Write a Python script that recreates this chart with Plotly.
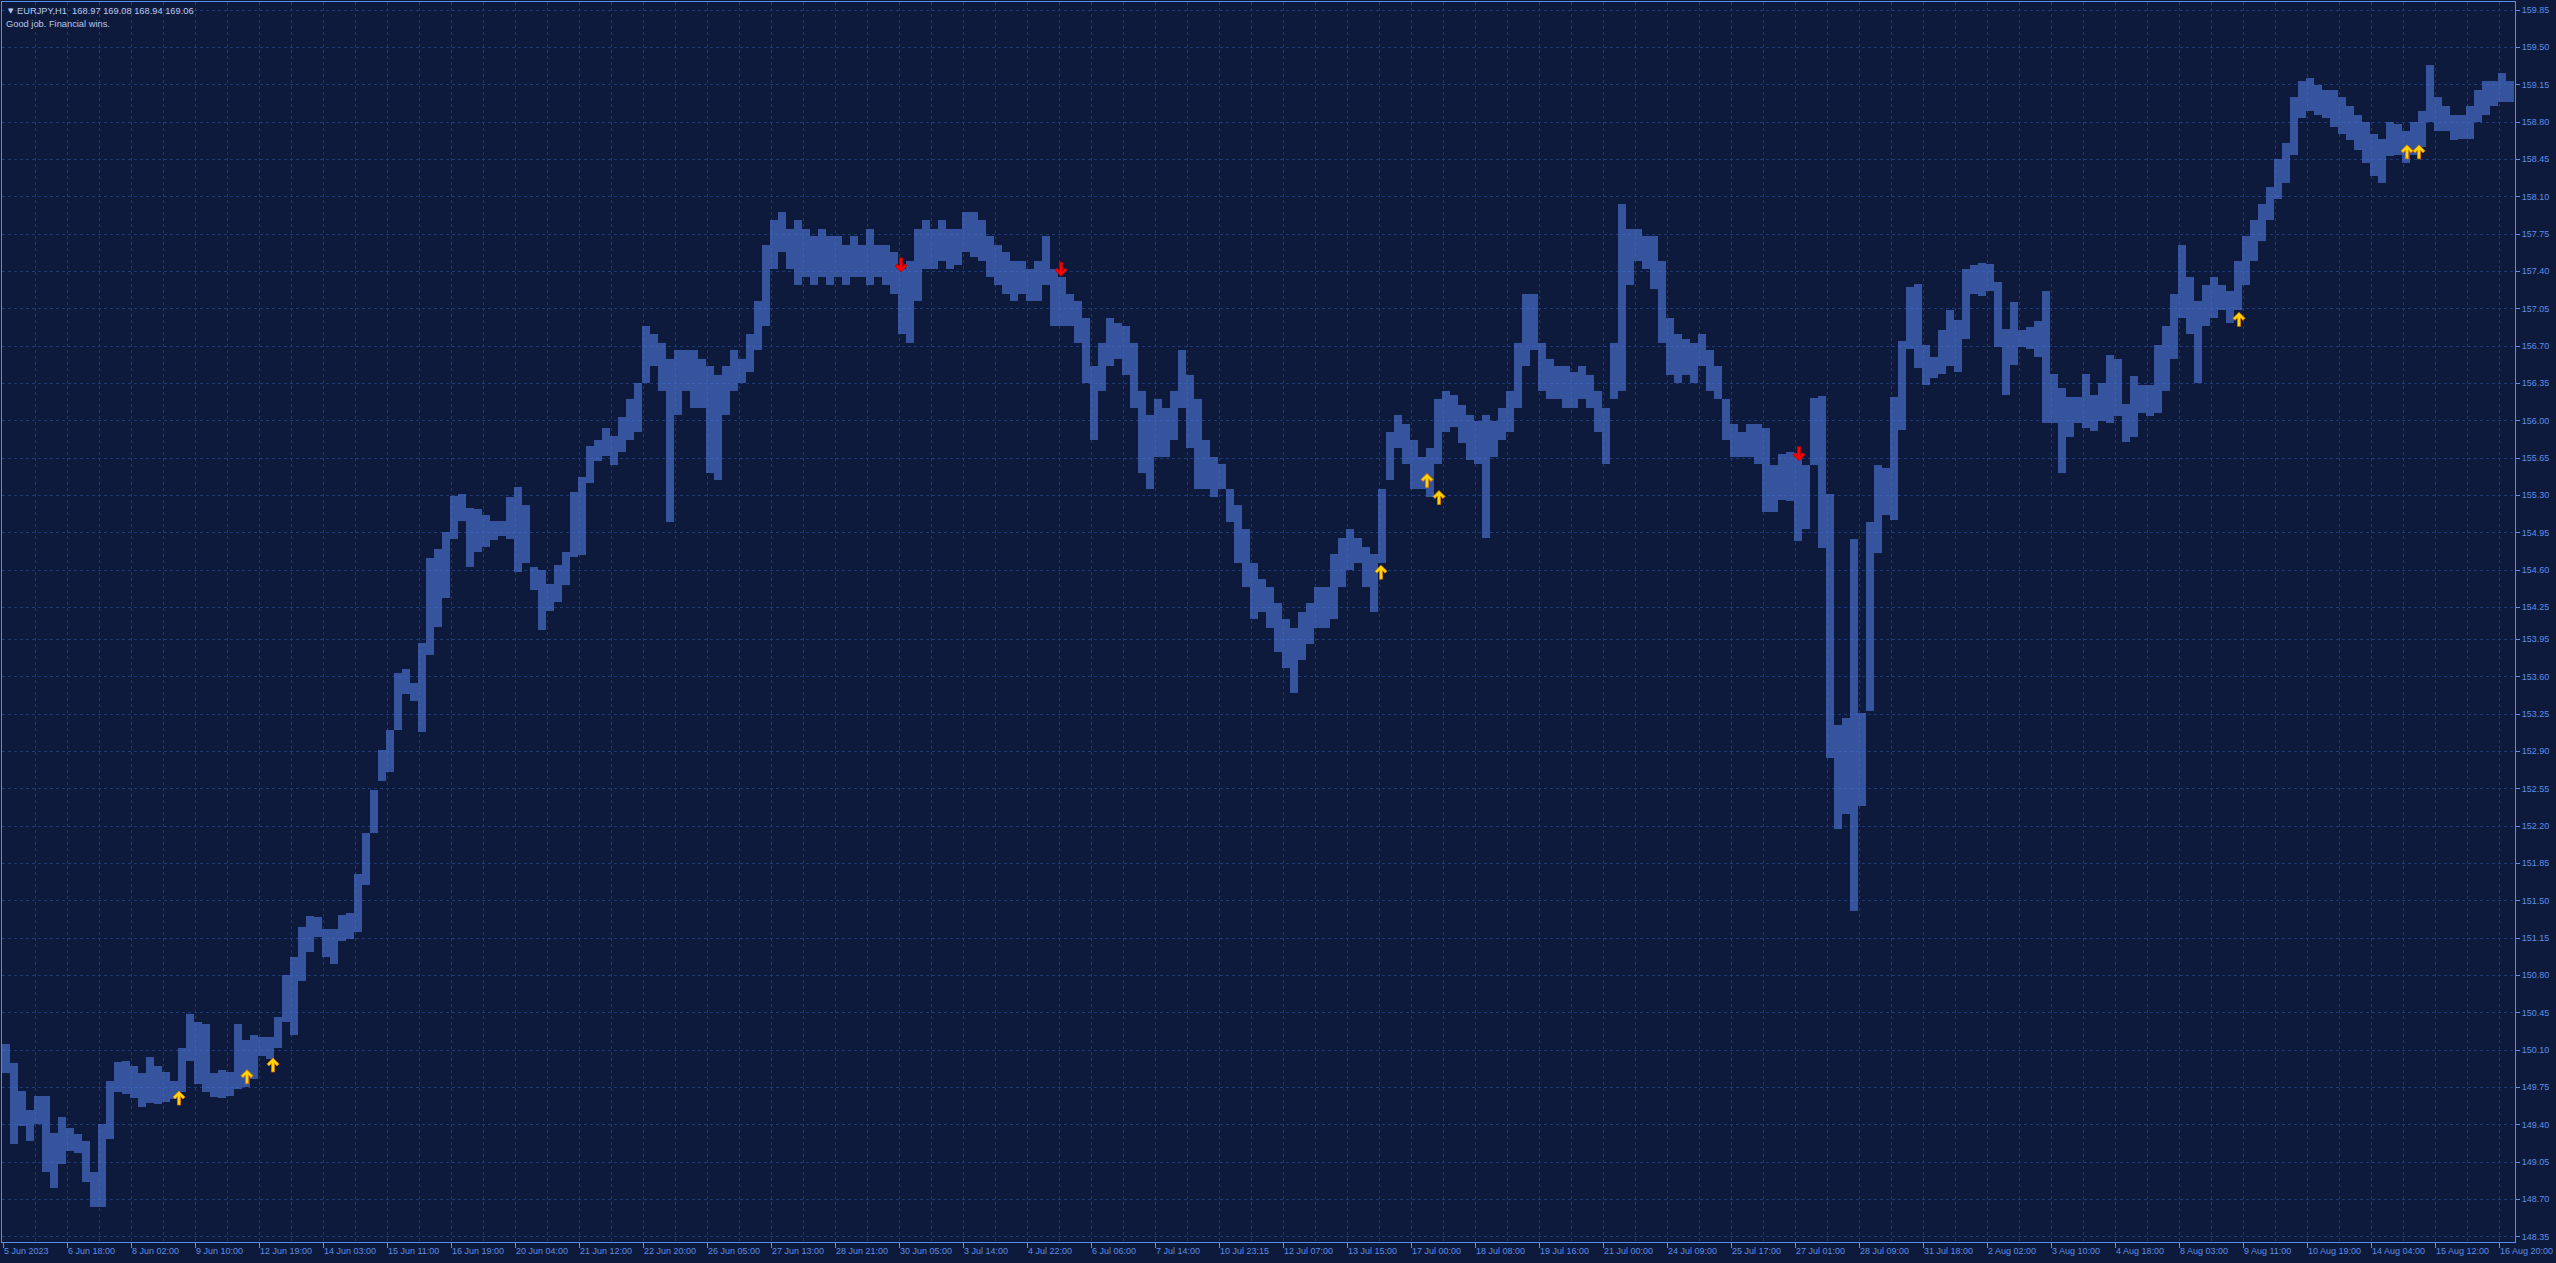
import plotly.graph_objects as go

# ---- data: EURJPY H1, aggregated in 4-bar blocks (high / low per block) ----
HIGH = [
    150.16, 149.98, 149.72, 149.54, 149.67, 149.67, 149.32, 149.47, 149.37, 149.31,
    149.25, 148.96, 149.41, 149.81, 149.99, 150.00, 149.95, 149.88, 150.03, 149.95,
    149.89, 149.81, 150.12, 150.44, 150.36, 150.34, 149.88, 149.91, 149.89, 150.34,
    150.19, 150.24, 150.22, 150.22, 150.41, 150.80, 150.97, 151.25, 151.36, 151.35,
    151.23, 151.23, 151.37, 151.38, 151.75, 152.13, 152.54, 152.91, 153.10, 153.63,
    153.67, 153.54, 153.92, 154.71, 154.80, 154.96, 155.29, 155.31, 155.18, 155.17,
    155.12, 155.06, 155.06, 155.28, 155.38, 155.21, 154.63, 154.60, 154.47, 154.65,
    154.77, 155.33, 155.47, 155.76, 155.82, 155.93, 155.86, 156.03, 156.20, 156.35,
    156.89, 156.81, 156.73, 156.58, 156.66, 156.66, 156.66, 156.58, 156.51, 156.43,
    156.51, 156.66, 156.58, 156.81, 157.12, 157.65, 157.88, 157.96, 157.80, 157.88,
    157.80, 157.73, 157.80, 157.73, 157.73, 157.65, 157.73, 157.65, 157.80, 157.65,
    157.65, 157.58, 157.42, 157.50, 157.80, 157.88, 157.80, 157.88, 157.80, 157.80,
    157.96, 157.96, 157.88, 157.73, 157.65, 157.58, 157.50, 157.50, 157.42, 157.50,
    157.73, 157.42, 157.35, 157.19, 157.12, 156.96, 156.51, 156.73, 156.96, 156.92,
    156.89, 156.73, 156.28, 156.05, 156.20, 156.12, 156.28, 156.66, 156.43, 156.20,
    155.82, 155.66, 155.59, 155.36, 155.21, 154.98, 154.67, 154.52, 154.44, 154.29,
    154.14, 154.06, 154.21, 154.29, 154.44, 154.44, 154.75, 154.90, 154.98, 154.90,
    154.82, 154.75, 155.36, 155.89, 156.05, 155.97, 155.82, 155.66, 155.74, 156.20,
    156.28, 156.24, 156.15, 156.05, 156.00, 156.05, 156.00, 156.12, 156.28, 156.73,
    157.19, 157.19, 156.73, 156.58, 156.51, 156.51, 156.46, 156.51, 156.43, 156.28,
    156.12, 156.73, 158.03, 157.80, 157.80, 157.73, 157.73, 157.50, 156.96, 156.81,
    156.77, 156.73, 156.81, 156.66, 156.51, 156.20, 155.97, 155.89, 155.97, 155.97,
    155.93, 155.58, 155.69, 155.71, 155.70, 155.58, 156.21, 156.23, 155.31, 153.15,
    153.21, 154.89, 153.26, 155.05, 155.58, 155.56, 156.22, 156.75, 157.25, 157.28,
    156.71, 156.60, 156.85, 157.04, 156.94, 157.42, 157.46, 157.48, 157.47, 157.30,
    156.86, 157.11, 156.85, 156.88, 156.93, 157.22, 156.44, 156.31, 156.22, 156.22,
    156.44, 156.24, 156.35, 156.62, 156.58, 156.16, 156.42, 156.33, 156.33, 156.71,
    156.89, 157.19, 157.65, 157.35, 157.12, 157.27, 157.35, 157.27, 157.22, 157.50,
    157.73, 157.88, 158.03, 158.19, 158.45, 158.60, 159.03, 159.18, 159.21, 159.15,
    159.10, 159.10, 159.03, 158.95, 158.87, 158.80, 158.69, 158.64, 158.80, 158.78,
    158.72, 158.80, 158.90, 159.33, 159.03, 158.95, 158.87, 158.87, 158.95, 159.10,
    159.18, 159.18, 159.26, 159.18,
]
LOW = [
    149.88, 149.22, 149.39, 149.25, 149.41, 148.96, 148.81, 149.03, 149.15, 149.13,
    148.86, 148.63, 148.63, 149.27, 149.71, 149.69, 149.65, 149.57, 149.60, 149.59,
    149.61, 149.64, 149.71, 150.00, 149.78, 149.71, 149.66, 149.65, 149.67, 149.73,
    149.75, 149.83, 150.04, 150.02, 150.12, 150.36, 150.24, 150.75, 151.02, 151.16,
    150.97, 150.91, 151.12, 151.14, 151.21, 151.65, 152.13, 152.62, 152.71, 153.10,
    153.44, 153.37, 153.08, 153.80, 154.07, 154.34, 154.89, 155.06, 154.63, 154.77,
    154.82, 154.88, 154.92, 154.89, 154.58, 154.67, 154.41, 154.04, 154.22, 154.30,
    154.46, 154.72, 154.74, 155.42, 155.62, 155.67, 155.58, 155.71, 155.82, 155.89,
    156.35, 156.51, 156.28, 155.05, 156.05, 156.28, 156.12, 156.12, 155.51, 155.44,
    156.05, 156.28, 156.35, 156.46, 156.66, 156.89, 157.42, 157.58, 157.42, 157.27,
    157.35, 157.27, 157.35, 157.27, 157.35, 157.27, 157.35, 157.35, 157.27, 157.35,
    157.27, 157.19, 156.81, 156.73, 157.12, 157.42, 157.42, 157.50, 157.42, 157.46,
    157.58, 157.53, 157.50, 157.35, 157.27, 157.19, 157.12, 157.19, 157.12, 157.12,
    157.27, 156.89, 156.89, 156.89, 156.73, 156.35, 155.82, 156.28, 156.51, 156.58,
    156.43, 156.12, 155.51, 155.36, 155.66, 155.66, 155.82, 156.12, 155.74, 155.36,
    155.36, 155.28, 155.36, 155.05, 154.67, 154.44, 154.14, 154.21, 154.06, 153.83,
    153.68, 153.45, 153.76, 153.91, 154.06, 154.06, 154.14, 154.44, 154.60, 154.67,
    154.44, 154.21, 154.67, 155.44, 155.74, 155.59, 155.36, 155.36, 155.28, 155.59,
    155.89, 155.94, 155.79, 155.63, 155.59, 154.90, 155.66, 155.82, 155.89, 156.12,
    156.51, 156.66, 156.28, 156.20, 156.20, 156.12, 156.12, 156.20, 156.12, 155.89,
    155.59, 156.20, 156.28, 157.27, 157.50, 157.42, 157.23, 156.73, 156.43, 156.35,
    156.43, 156.35, 156.51, 156.28, 156.20, 155.82, 155.66, 155.66, 155.66, 155.59,
    155.14, 155.14, 155.26, 155.25, 154.87, 154.98, 155.58, 154.81, 152.84, 152.17,
    152.31, 151.40, 152.39, 153.28, 154.76, 155.12, 155.07, 155.91, 156.67, 156.49,
    156.33, 156.40, 156.44, 156.51, 156.46, 156.77, 157.19, 157.17, 157.22, 156.69,
    156.24, 156.52, 156.69, 156.67, 156.60, 155.98, 155.98, 155.51, 155.85, 155.98,
    155.93, 155.90, 156.00, 155.98, 156.04, 155.80, 155.85, 156.07, 156.04, 156.07,
    156.28, 156.58, 156.96, 156.81, 156.35, 156.89, 156.96, 157.04, 156.92, 157.04,
    157.27, 157.50, 157.68, 157.88, 158.08, 158.23, 158.49, 158.84, 158.90, 158.87,
    158.84, 158.75, 158.69, 158.63, 158.54, 158.42, 158.29, 158.23, 158.48, 158.49,
    158.42, 158.49, 158.57, 158.80, 158.72, 158.72, 158.63, 158.64, 158.64, 158.80,
    158.87, 158.95, 158.99, 158.99,
]
BARS_PER_BLOCK = 4

X_LABELS = [
    "5 Jun 2023", "6 Jun 18:00", "8 Jun 02:00", "9 Jun 10:00", "12 Jun 19:00",
    "14 Jun 03:00", "15 Jun 11:00", "16 Jun 19:00", "20 Jun 04:00", "21 Jun 12:00",
    "22 Jun 20:00", "26 Jun 05:00", "27 Jun 13:00", "28 Jun 21:00", "30 Jun 05:00",
    "3 Jul 14:00", "4 Jul 22:00", "6 Jul 06:00", "7 Jul 14:00", "10 Jul 23:15",
    "12 Jul 07:00", "13 Jul 15:00", "17 Jul 00:00", "18 Jul 08:00", "19 Jul 16:00",
    "21 Jul 00:00", "24 Jul 09:00", "25 Jul 17:00", "27 Jul 01:00", "28 Jul 09:00",
    "31 Jul 18:00", "2 Aug 02:00", "3 Aug 10:00", "4 Aug 18:00", "8 Aug 03:00",
    "9 Aug 11:00", "10 Aug 19:00", "14 Aug 04:00", "15 Aug 12:00", "16 Aug 20:00",
]
LABEL_STEP = 32   # bars between time labels
GRID_STEP = 16    # bars between vertical grid lines

Y_TICKS = [
    159.85, 159.50, 159.15, 158.80, 158.45, 158.10, 157.75, 157.40, 157.05, 156.70,
    156.35, 156.00, 155.65, 155.30, 154.95, 154.60, 154.25, 153.95, 153.60, 153.25,
    152.90, 152.55, 152.20, 151.85, 151.50, 151.15, 150.80, 150.45, 150.10, 149.75,
    149.40, 149.05, 148.70, 148.35,
]

UP_BAR = [88, 122, 135, 689, 712, 718, 1118, 1202, 1208]
UP_PRICE = [149.65, 149.85, 149.96, 154.58, 155.44, 155.28, 156.95, 158.52, 158.52]
DOWN_BAR = [449, 529, 898]
DOWN_PRICE = [157.46, 157.42, 155.69]

SYMBOL = "EURJPY,H1"
OHLC_TEXT = "168.97 169.08 168.94 169.06"
COMMENT = "Good job. Financial wins."

# ---- style ----
BG = "#0e1a3b"
GRID = "#1d3a74"
BAR = "#5079e0"
AXIS = "#5a8de6"
TXT = "#5b8fe8"
TITLE = "#b8c9ee"
FONT = "Liberation Sans"

W, H = 2556, 1263
ML, MR, MT, MB = 2, 41, 2, 21
PW, PH = W - ML - MR, H - MT - MB

fig = go.Figure()

xs = [BARS_PER_BLOCK * k + (BARS_PER_BLOCK - 1) / 2 for k in range(len(HIGH))]
fig.add_trace(go.Bar(
    x=xs,
    y=[h - l for h, l in zip(HIGH, LOW)],
    base=LOW,
    width=BARS_PER_BLOCK,
    marker=dict(
        color=BAR,
        line=dict(width=0),
        pattern=dict(shape="|", size=2, solidity=0.6, fgcolor=BAR,
                     bgcolor="rgba(0,0,0,0)", fillmode="replace"),
    ),
    hoverinfo="skip",
    showlegend=False,
))

# arrow glyphs drawn as pixel-sized paths anchored at each signal's bar/price
UP_PTS = [(0, 7), (6, 1), (4, -1), (1.5, 1.5), (1.5, -7), (-1.5, -7),
          (-1.5, 1.5), (-4, -1), (-6, 1)]


def arrow_path(flip):
    s = -1 if flip else 1
    pts = [(x, s * y) for x, y in UP_PTS]
    return "M" + " L".join(f"{x},{y}" for x, y in pts) + " Z"


shapes = []
for b, p in zip(UP_BAR, UP_PRICE):
    shapes.append(dict(type="path", xref="x", yref="y", xsizemode="pixel",
                       ysizemode="pixel", xanchor=b, yanchor=p,
                       path=arrow_path(False), fillcolor="#ffd400",
                       line=dict(color="#e07a00", width=0.8), layer="above"))
for b, p in zip(DOWN_BAR, DOWN_PRICE):
    shapes.append(dict(type="path", xref="x", yref="y", xsizemode="pixel",
                       ysizemode="pixel", xanchor=b, yanchor=p,
                       path=arrow_path(True), fillcolor="#ff0000",
                       line=dict(color="#c00000", width=0.8), layer="above"))


def px_x(px):
    return (px - ML) / PW


def px_y(py):
    return 1 - (py - MT) / PH


annotations = [
    dict(text="▼", x=px_x(6), y=px_y(11), xref="paper", yref="paper",
         xanchor="left", yanchor="middle", showarrow=False,
         font=dict(family="DejaVu Sans", size=7, color=TITLE)),
    dict(text=SYMBOL + "\u00a0\u00a0" + OHLC_TEXT, x=px_x(15), y=px_y(11),
         xref="paper", yref="paper", xanchor="left", yanchor="middle",
         showarrow=False, font=dict(family=FONT, size=9.3, color=TITLE)),
    dict(text=COMMENT, x=px_x(4), y=px_y(24), xref="paper", yref="paper",
         xanchor="left", yanchor="middle", showarrow=False,
         font=dict(family=FONT, size=9.3, color=TITLE)),
]

fig.update_layout(
    width=W, height=H,
    margin=dict(l=ML, r=MR, t=MT, b=MB, pad=0),
    paper_bgcolor=BG, plot_bgcolor=BG,
    bargap=0,
    shapes=shapes,
    annotations=annotations,
    xaxis=dict(
        range=[-0.5, 1256],
        tickmode="array",
        tickvals=[i * LABEL_STEP for i in range(len(X_LABELS))],
        ticktext=X_LABELS,
        ticks="outside", ticklen=5, tickcolor=AXIS, tickwidth=1,
        ticklabelposition="outside right",
        tickfont=dict(family=FONT, size=9, color=TXT),
        showgrid=True, gridcolor=GRID, griddash="3px,3px", gridwidth=1,
        minor=dict(tickmode="linear", tick0=0, dtick=GRID_STEP, showgrid=True,
                   gridcolor=GRID, griddash="3px,3px", gridwidth=1, ticks=""),
        showline=True, linecolor=AXIS, linewidth=1, mirror=True,
        zeroline=False, fixedrange=True,
    ),
    yaxis=dict(
        range=[148.30, 159.925],
        side="right",
        tickmode="array",
        tickvals=Y_TICKS,
        ticktext=[f"{v:.2f}" for v in Y_TICKS],
        ticks="outside", ticklen=4, tickcolor=AXIS, tickwidth=1,
        tickfont=dict(family=FONT, size=9, color=TXT),
        showgrid=True, gridcolor=GRID, griddash="3px,3px", gridwidth=1,
        showline=True, linecolor=AXIS, linewidth=1, mirror=True,
        zeroline=False, fixedrange=True,
    ),
)

fig.write_html("out.html", config={"displayModeBar": False},
               post_script="document.body.style.margin='0';document.body.style.overflow='hidden';")
